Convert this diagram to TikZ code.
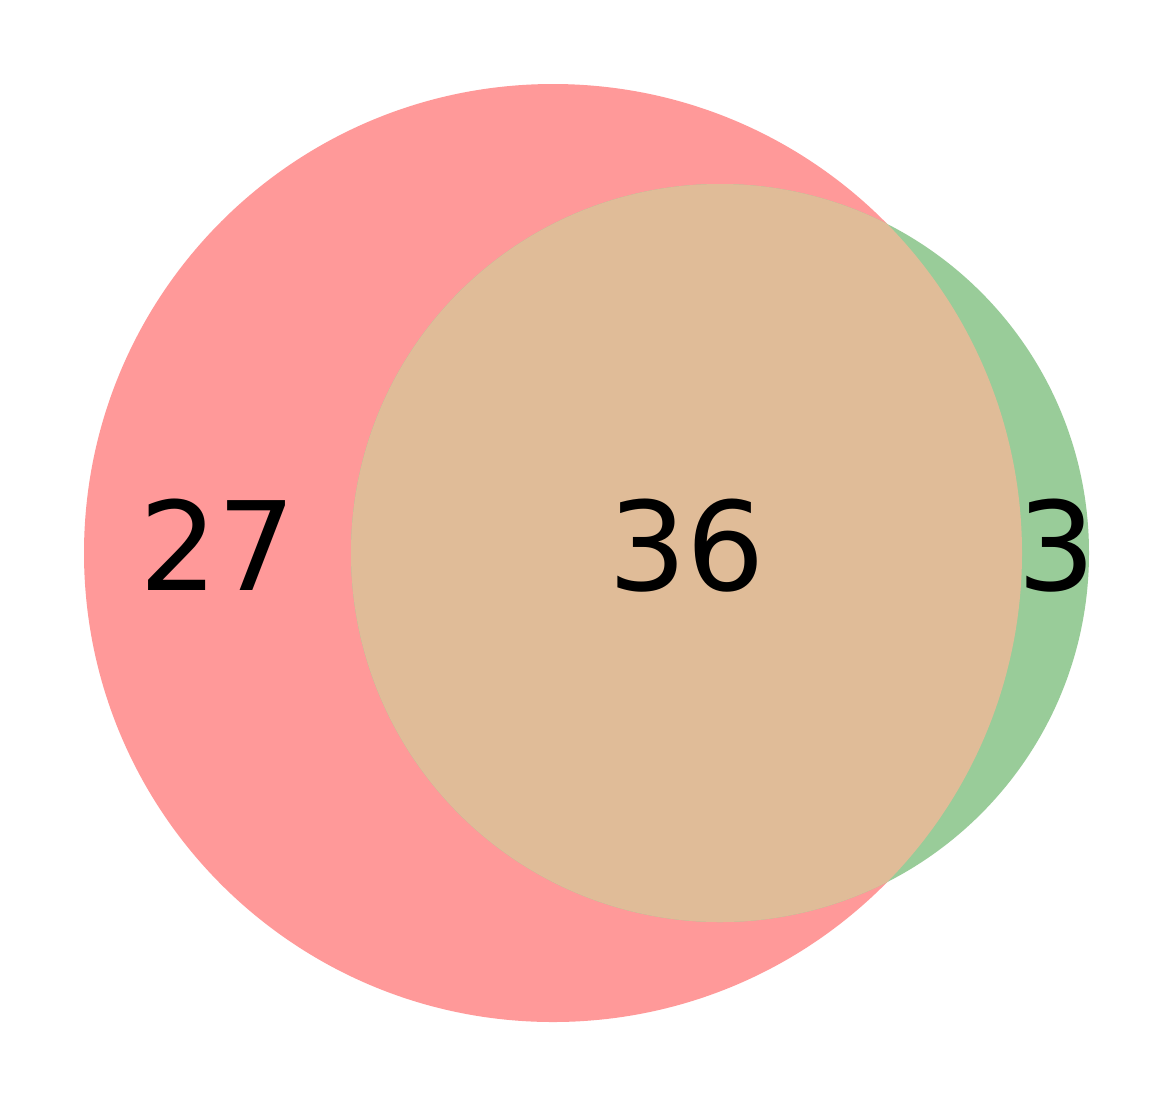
\documentclass[tikz,border=0pt]{standalone}
\usepackage{fontspec}
\setmainfont{DejaVu Sans}
\definecolor{setA}{HTML}{FF9999}
\definecolor{setB}{HTML}{99CC99}
\definecolor{setAB}{HTML}{E0BC98}
\begin{document}
\begin{tikzpicture}[x=0.75pt,y=-0.75pt,
  lbl/.style={font=\fontsize{92.5}{93}\selectfont, text=black, anchor=base, inner sep=0pt}]
\useasboundingbox[fill=white] (0,0) rectangle (1174,1108);
\fill[setA] (553,553) circle[radius=469];
\fill[setB] (720,553) circle[radius=369];
\begin{scope}
  \clip (553,553) circle[radius=469];
  \fill[setAB] (720,553) circle[radius=369];
\end{scope}
\node[lbl] (a) at (218,590) {27};
\node[lbl] (ab) at (687,590) {36};
\node[lbl] (b) at (1057,590) {3};
\end{tikzpicture}
\end{document}
